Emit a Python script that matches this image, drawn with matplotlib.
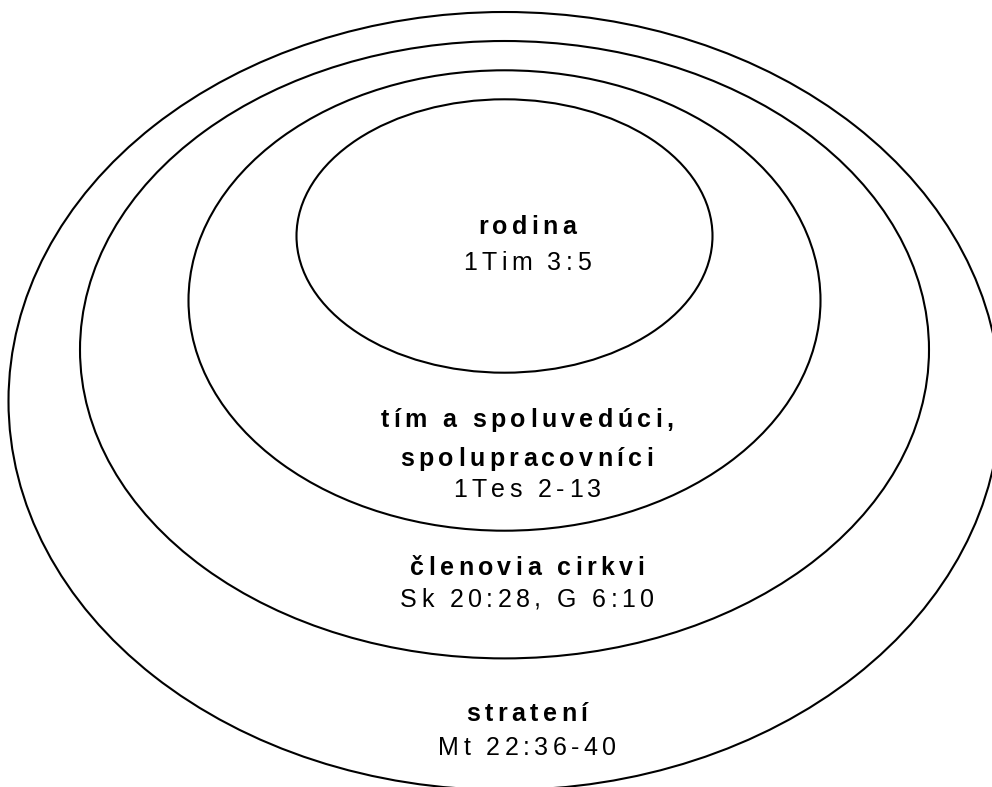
import matplotlib
matplotlib.use("Agg")
import matplotlib.pyplot as plt
from matplotlib.patches import Ellipse
from matplotlib import font_manager, ft2font
from matplotlib.font_manager import FontProperties

# rings from the inside out
ring_titles = ["rodina", "tím a spoluvedúci,\nspolupracovníci", "členovia cirkvi", "stratení"]
ring_refs = ["1Tim 3:5", "1Tes 2-13", "Sk 20:28, G 6:10", "Mt 22:36-40"]
ring_half_widths = [208, 316, 424.5, 496]
ring_half_heights = [136.7, 230.2, 308.7, 389]
ring_center_y = [236, 300.5, 349.7, 401]

# layout (pixels, y down)
W, H = 992, 787
CX = 504.5
TEXT_X = 527
title_baselines = [[234], [427, 466], [575], [721]]
ref_baselines = [270, 497, 607, 755]
FONT = "Liberation Sans"
SIZE = 18
TRACKING = 4.4  # extra px between letters


def advances(text, weight):
    path = font_manager.findfont(FontProperties(family=FONT, weight=weight))
    font = ft2font.FT2Font(path)
    font.set_size(SIZE, 100)
    return [font.load_char(ord(ch)).linearHoriAdvance / 65536 for ch in text]


def spaced_text(ax, xc, y, text, weight="normal"):
    adv = advances(text, weight)
    total = sum(adv) + TRACKING * (len(text) - 1)
    x = xc - total / 2
    for ch, a in zip(text, adv):
        ax.text(x, y, ch, ha="left", va="baseline", fontsize=SIZE,
                family=FONT, weight=weight, color="black")
        x += a + TRACKING


def main():
    fig = plt.figure(figsize=(W / 100, H / 100), dpi=100)
    ax = fig.add_axes([0, 0, 1, 1])
    ax.set_xlim(0, W)
    ax.set_ylim(H, 0)
    ax.axis("off")

    for a, b, cy in zip(ring_half_widths, ring_half_heights, ring_center_y):
        ax.add_patch(Ellipse((CX, cy), 2 * a, 2 * b, fill=False,
                             edgecolor="black", lw=1.5))

    for title, ref, tys, ry in zip(ring_titles, ring_refs, title_baselines, ref_baselines):
        for line, ty in zip(title.split("\n"), tys):
            spaced_text(ax, TEXT_X, ty, line, weight="bold")
        spaced_text(ax, TEXT_X, ry, ref)

    fig.savefig("out.png", dpi=100, facecolor="white")


if __name__ == "__main__":
    main()
